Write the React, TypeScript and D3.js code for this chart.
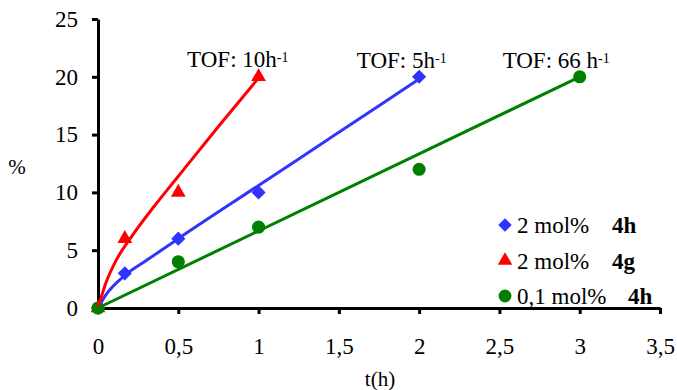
import * as d3 from 'd3'
import React, { useEffect, useRef } from 'react'

// measured points
const blueX = [0, 0.167, 0.5, 1, 2]
const blueY = [0, 3, 6, 10, 20]
const redX = [0, 0.167, 0.5, 1]
const redY = [0, 6, 10, 20]
const greenX = [0, 0.5, 1, 2, 3]
const greenY = [0, 4, 7, 12, 20]

// trend lines
const blueFitX = [0, 0.05, 0.17, 0.3, 0.5, 1, 1.5, 2]
const blueFitY = [0, 1.15, 2.85, 4.1, 6.0, 10.6, 15.2, 19.8]
const redFitX = [0, 0.05, 0.112, 0.2, 0.35, 0.5, 0.75, 1]
const redFitY = [0, 2.2, 4.1, 6.0, 8.8, 11.4, 15.7, 19.9]
const greenFitX = [0, 3]
const greenFitY = [0, 20]

const xTicks = [0, 0.5, 1, 1.5, 2, 2.5, 3, 3.5]
const yTicks = [0, 5, 10, 15, 20, 25]

const tofLabels = [
  { x: 0.555, y: 20.87, main: 'TOF: 10h', sup: '-1' },
  { x: 1.612, y: 20.8, main: 'TOF: 5h', sup: '-1' },
  { x: 2.52, y: 20.8, main: 'TOF: 66 h', sup: '-1' },
]

const legend = [
  { sym: d3.symbolSquare, rot: 45, size: 90, color: '#3333FF', text: '2 mol%', bold: '4h', boldX: 612 },
  { sym: d3.symbolTriangle, rot: 0, size: 90, color: '#FF0000', text: '2 mol%', bold: '4g', boldX: 612 },
  { sym: d3.symbolCircle, rot: 0, size: 130, color: '#008000', text: '0,1 mol%', bold: '4h', boldX: 628 },
]

const W = 677
const H = 390
const font = 'Liberation Serif'

export default function App() {
  const ref = useRef<SVGSVGElement>(null)

  useEffect(() => {
    const svg = d3.select(ref.current)
    svg.selectAll('*').remove()

    const x = d3.scaleLinear().domain([0, 3.5]).range([98, 660])
    const y = d3.scaleLinear().domain([0, 25]).range([308, 19])
    const fmt = (d: any) => String(d).replace('.', ',')

    const xa = svg.append('g')
      .attr('transform', `translate(0,${y(0)})`)
      .call(d3.axisBottom(x).tickValues(xTicks).tickFormat(fmt).tickSize(6).tickSizeOuter(0).tickPadding(24))
    const ya = svg.append('g')
      .attr('transform', `translate(${x(0)},0)`)
      .call(d3.axisLeft(y).tickValues(yTicks).tickSize(6).tickSizeOuter(0).tickPadding(14))
    for (const a of [xa, ya]) {
      a.attr('font-family', font).attr('font-size', 23)
      a.selectAll('path, line').attr('stroke', '#000').attr('stroke-width', 3)
      a.selectAll('text').attr('fill', '#000')
    }

    const line = d3.line<[number, number]>()
      .x(d => x(d[0]))
      .y(d => y(d[1]))
      .curve(d3.curveMonotoneX)

    const series = [
      { xs: blueX, ys: blueY, fx: blueFitX, fy: blueFitY, color: '#3333FF', sym: d3.symbolSquare, rot: 45, size: 100 },
      { xs: redX, ys: redY, fx: redFitX, fy: redFitY, color: '#FF0000', sym: d3.symbolTriangle, rot: 0, size: 95 },
      { xs: greenX, ys: greenY, fx: greenFitX, fy: greenFitY, color: '#008000', sym: d3.symbolCircle, rot: 0, size: 135 },
    ]

    series.forEach(s => {
      svg.append('g')
        .selectAll('path')
        .data(s.xs.map((v, i) => [v, s.ys[i]]))
        .join('path')
        .attr('d', d3.symbol().type(s.sym).size(s.size)())
        .attr('transform', d => `translate(${x(d[0])},${y(d[1])}) rotate(${s.rot})`)
        .attr('fill', s.color)
    })
    series.forEach(s => {
      svg.append('path')
        .datum(s.fx.map((v, i) => [v, s.fy[i]] as [number, number]))
        .attr('d', line)
        .attr('fill', 'none')
        .attr('stroke', s.color)
        .attr('stroke-width', 3)
    })

    const txt = svg.append('g').attr('font-family', font).attr('fill', '#000')

    tofLabels.forEach(t => {
      const tx = txt.append('text')
        .attr('x', x(t.x))
        .attr('y', y(t.y))
        .attr('font-size', 23)
      tx.append('tspan').text(t.main)
      tx.append('tspan').attr('dy', -5).attr('font-size', 14).text(t.sup)
    })

    legend.forEach((l, i) => {
      const cy = 225 + i * 35.5
      txt.append('path')
        .attr('d', d3.symbol().type(l.sym).size(l.size)())
        .attr('transform', `translate(505,${cy}) rotate(${l.rot})`)
        .attr('fill', l.color)
      txt.append('text')
        .attr('x', 517).attr('y', cy + 8)
        .attr('font-size', 23)
        .text(l.text)
      txt.append('text')
        .attr('x', l.boldX).attr('y', cy + 8)
        .attr('font-size', 23).attr('font-weight', 'bold')
        .text(l.bold)
    })

    txt.append('text')
      .attr('x', 17).attr('y', 174)
      .attr('text-anchor', 'middle')
      .attr('font-size', 21)
      .text('%')
    txt.append('text')
      .attr('x', 380).attr('y', 386)
      .attr('text-anchor', 'middle')
      .attr('font-size', 21)
      .text('t(h)')
  }, [])

  return (
    <svg ref={ref} width={W} height={H} style={{ position: 'absolute', left: 0, top: 0, background: '#fff' }} />
  )
}
